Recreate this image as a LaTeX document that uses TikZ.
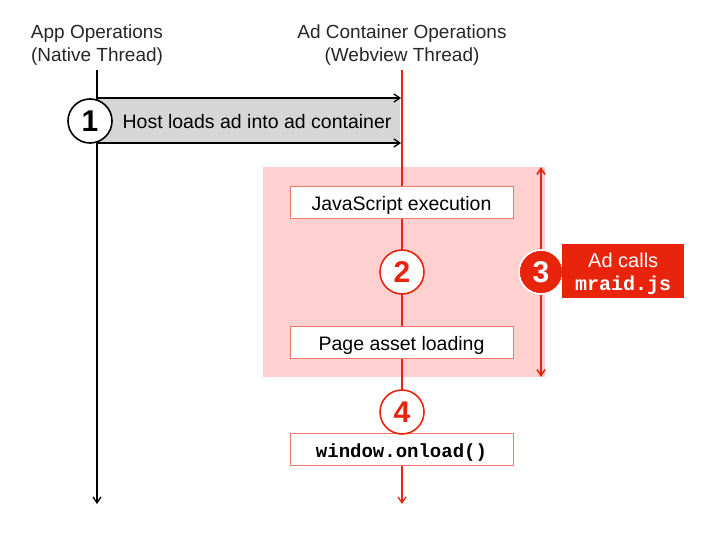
\documentclass[tikz,border=0pt]{standalone}
\usepackage{fontspec}
\setmainfont{Liberation Sans}
\setmonofont{Liberation Mono}
\usetikzlibrary{arrows.meta}
\definecolor{adred}{RGB}{232,36,12}
\definecolor{adpink}{RGB}{255,208,208}
\definecolor{boxedge}{RGB}{240,120,110}
\definecolor{hostgray}{RGB}{214,214,214}
\tikzset{
  title/.style={font=\fontsize{19}{23}\selectfont, align=center, text=black!85},
  stepbox/.style={draw=boxedge, line width=0.8pt, fill=white, minimum width=223pt, minimum height=32pt, inner sep=0pt, text height=17pt, text depth=1pt, font=\fontsize{19.5}{22}\selectfont},
  numcirc/.style={circle, minimum size=44pt, inner sep=0pt, line width=1.6pt, font=\bfseries\fontsize{30}{32}\selectfont},
  arr/.style={-{Straight Barb[length=6pt,width=8pt]}, line width=1.3pt}
}
\begin{document}
\begin{tikzpicture}[x=1pt,y=-1pt]
\useasboundingbox (0,0) rectangle (712,554);
% titles
\node[title] (t1) at (97,45) {App Operations\\(Native Thread)};
\node[title] (t2) at (402,45) {Ad Container Operations\\(Webview Thread)};
% pink zone
\fill[adpink] (263,167) rectangle (545,377);
% coordinates
\coordinate (ltop) at (97,70);
\coordinate (lbot) at (97,504);
\coordinate (rtop) at (402,70);
\coordinate (rbot) at (402,504);
% gray host box
\fill[hostgray] (97,98) rectangle (400,143);
\coordinate (h1a) at (97,98);
\coordinate (h1b) at (401,98);
\coordinate (h2a) at (97,143);
\coordinate (h2b) at (401,143);
% thread lines
\draw[arr, black] (ltop) -- (lbot);
\draw[arr, adred] (rtop) -- (rbot);
\draw[arr, black] (h1a) -- (h1b);
\draw[arr, black] (h2a) -- (h2b);
\node[font=\fontsize{19.5}{22}\selectfont] (host) at (257,122) {Host loads ad into ad container};
\node[numcirc, draw=black, fill=white, text=black] (c1) at (90,121) {1};
% steps
\node[stepbox] (js) at (401.5,202) {JavaScript execution};
\node[stepbox] (pal) at (401.5,342) {Page asset loading};
\node[numcirc, draw=adred, fill=white, text=adred] (c2) at (402,272) {2};
% double arrow
\coordinate (dtop) at (541,167);
\coordinate (dbot) at (541,377);
\draw[adred, line width=1.6pt, {Straight Barb[length=6pt,width=8pt]}-{Straight Barb[length=6pt,width=8pt]}] (dtop) -- (dbot);
\node[numcirc, draw=white, fill=adred, text=white] (c3) at (541,272) {3};
\node[fill=adred, text=white, minimum width=122pt, minimum height=54pt, inner sep=0pt, align=center, font=\fontsize{20}{23}\selectfont, anchor=west] (ad) at (562,271) {\rule{0pt}{20pt}Ad calls\\{\ttfamily\bfseries mraid.js}};
% step 4
\node[stepbox, font=\ttfamily\bfseries\fontsize{19}{21}\selectfont] (onl) at (401.5,449) {window.onload()};
\node[numcirc, draw=adred, fill=white, text=adred] (c4) at (402,412) {4};
\end{tikzpicture}
\end{document}
